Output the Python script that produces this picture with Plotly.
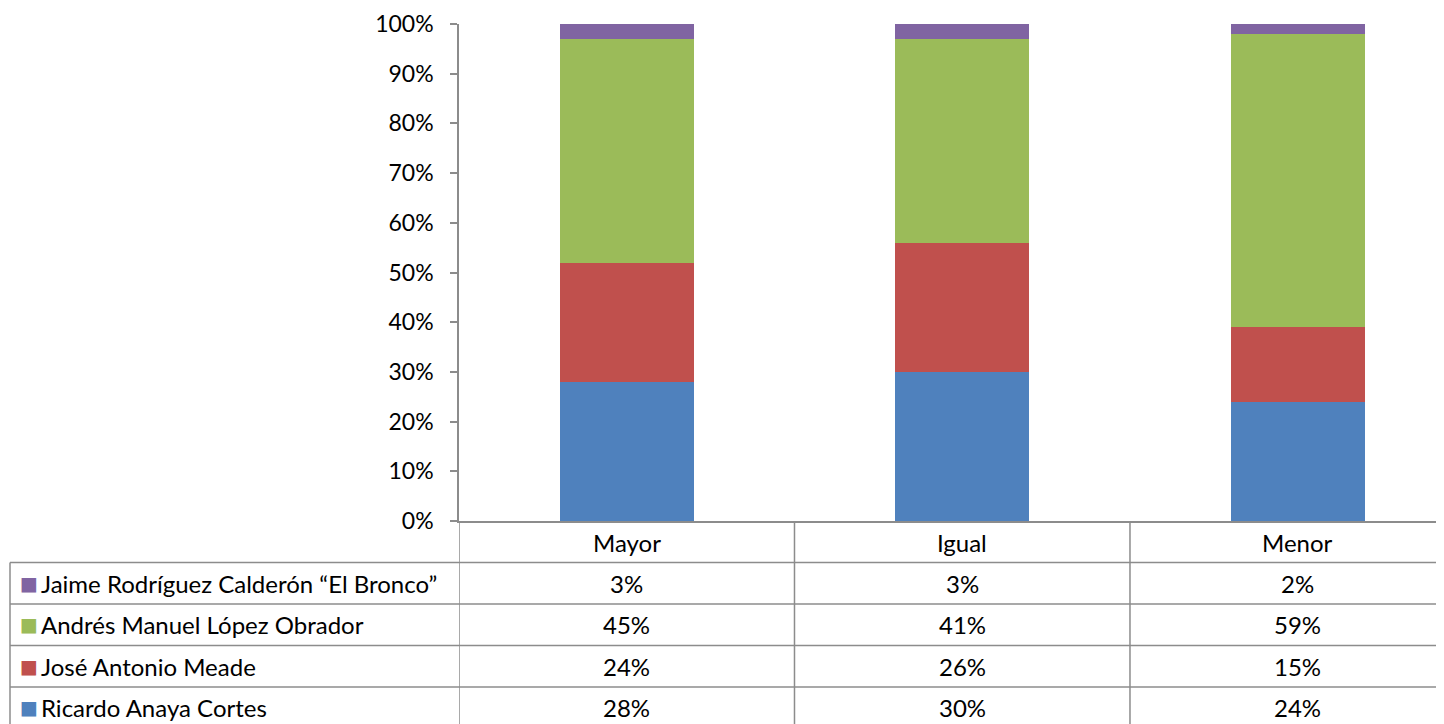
import plotly.graph_objects as go

categories = ["Mayor", "Igual", "Menor"]
series_names = [
    "Ricardo Anaya Cortes",
    "José Antonio Meade",
    "Andrés Manuel López Obrador",
    "Jaime Rodríguez Calderón “El Bronco”",
]
ricardo = [28, 30, 24]
meade = [24, 26, 15]
amlo = [45, 41, 59]
bronco = [3, 3, 2]
series_values = [ricardo, meade, amlo, bronco]
colors = ["#4F81BD", "#C0504D", "#9BBB59", "#8064A2"]
y_ticks = [0, 10, 20, 30, 40, 50, 60, 70, 80, 90, 100]

OFF = 8  # browser body margin
W, H = 1444 - OFF, 724 - OFF
ML, MT, MB = 459 - OFF, 24 - OFF, 203
plot_w = W - ML
plot_h = H - MT - MB
FONT = "Lato"
FS_TICK = 23
FS = 24

def px_to_py(py):
    # py: page pixel y
    return -(py - (724 - MB)) / plot_h

def px_to_px(px):
    return (px - 459) / plot_w

fig = go.Figure()
for name, vals, col in zip(series_names, series_values, colors):
    fig.add_trace(go.Bar(x=list(range(len(categories))), y=vals, name=name,
                         marker=dict(color=col, line=dict(width=0)), width=0.4))

shapes = []
line_col = "#8C8C8C"
for py in [562.5, 604, 645.5, 687]:
    shapes.append(dict(type="line", xref="paper", yref="paper",
                       x0=px_to_px(10), x1=1.0, y0=px_to_py(py), y1=px_to_py(py),
                       line=dict(color=line_col, width=1.5)))
shapes.append(dict(type="line", xref="paper", yref="paper",
                   x0=px_to_px(10), x1=px_to_px(10), y0=px_to_py(562.5), y1=px_to_py(730),
                   line=dict(color=line_col, width=1.5)))
for xb in [-0.5, 0.5, 1.5, 2.5]:
    shapes.append(dict(type="line", xref="x", yref="paper",
                       x0=xb, x1=xb, y0=0, y1=px_to_py(730),
                       line=dict(color=line_col, width=1.5)))

annotations = []
row_centers = [542, 583, 624, 666, 707]
for i, c in enumerate(categories):
    annotations.append(dict(x=i, y=px_to_py(row_centers[0]), xref="x", yref="paper",
                            text=c, showarrow=False, xanchor="center", yanchor="middle",
                            font=dict(family=FONT, size=FS, color="black")))
order = [3, 2, 1, 0]
for r, si in enumerate(order):
    yc = px_to_py(row_centers[r + 1])
    annotations.append(dict(x=px_to_px(18), y=yc, xref="paper", yref="paper",
                            text="■", showarrow=False, xanchor="left", yanchor="middle",
                            font=dict(family="DejaVu Sans", size=19, color=colors[si])))
    annotations.append(dict(x=px_to_px(39), y=yc, xref="paper", yref="paper",
                            text=series_names[si], showarrow=False, xanchor="left", yanchor="middle",
                            font=dict(family=FONT, size=FS, color="black")))
    for i, v in enumerate(series_values[si]):
        annotations.append(dict(x=i, y=yc, xref="x", yref="paper",
                                text=f"{v}%", showarrow=False, xanchor="center", yanchor="middle",
                                font=dict(family=FONT, size=FS, color="black")))

fig.update_layout(
    barmode="stack",
    width=W, height=H,
    margin=dict(l=ML, r=0, t=MT, b=MB, pad=0),
    paper_bgcolor="white", plot_bgcolor="white",
    showlegend=False,
    shapes=shapes,
    annotations=annotations,
    xaxis=dict(range=[-0.5, 2.436],
               showticklabels=False, ticks="", showgrid=False, zeroline=False,
               showline=True, linecolor=line_col, linewidth=1.5, fixedrange=True),
    yaxis=dict(range=[0, 100], tickvals=y_ticks, ticktext=[f"{t}%" for t in y_ticks],
               ticks="outside", ticklen=7, tickcolor=line_col, tickwidth=1.5,
               showgrid=False, zeroline=False, showline=True, linecolor=line_col, linewidth=1.5,
               tickfont=dict(family=FONT, size=FS_TICK, color="black"), ticklabelstandoff=12),
)

fig.write_html("out.html")
